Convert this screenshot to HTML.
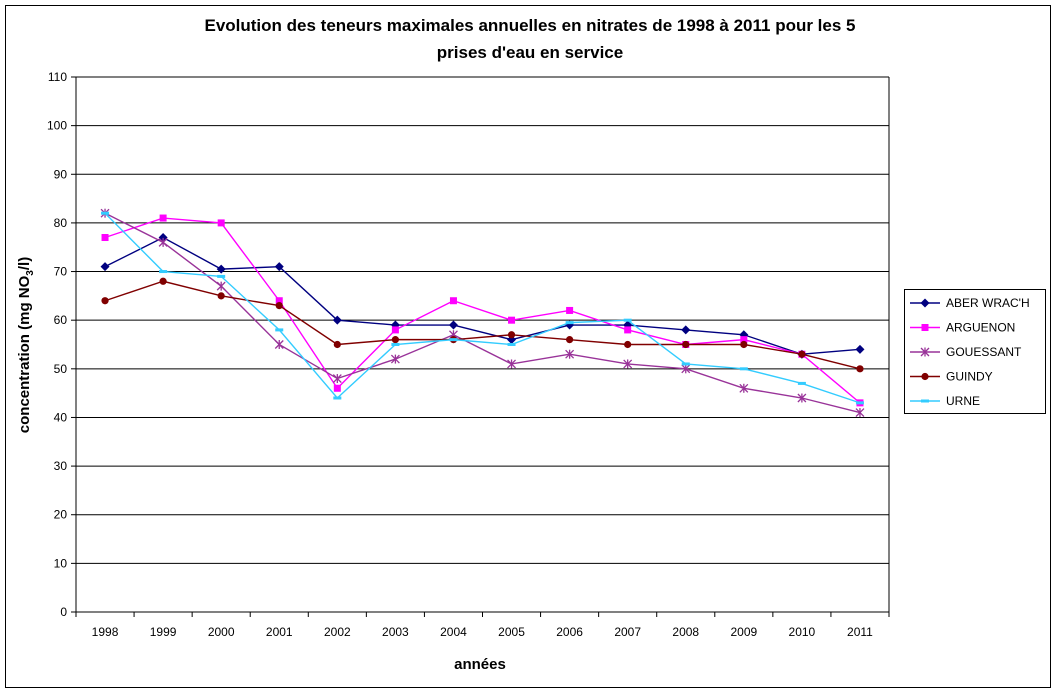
<!DOCTYPE html>
<html><head><meta charset="utf-8">
<style>
body{margin:0;background:#fff;font-family:"Liberation Sans",Arial,sans-serif;}
svg text{font-family:"Liberation Sans",Arial,sans-serif;}
</style></head>
<body>
<svg id="chart" width="1058" height="694" xmlns="http://www.w3.org/2000/svg">
<rect x="5.5" y="5.5" width="1045" height="682" fill="#fff" stroke="#000"/>
<text x="530" y="31" text-anchor="middle" font-size="17" font-weight="bold">Evolution des teneurs maximales annuelles en nitrates de 1998 à 2011 pour les 5</text>
<text x="530" y="58" text-anchor="middle" font-size="17" font-weight="bold">prises d'eau en service</text>
<g id="grid"></g><g id="axes"></g><g id="series"></g><g id="legend"></g>
<text x="480" y="669" text-anchor="middle" font-size="15" font-weight="bold">années</text>
<text transform="translate(29,345) rotate(-90)" text-anchor="middle" font-size="15" font-weight="bold">concentration (mg NO<tspan font-size="10" dy="4">3</tspan><tspan dy="-4">/l)</tspan></text>
</svg>
<script>
const categories=["1998","1999","2000","2001","2002","2003","2004","2005","2006","2007","2008","2009","2010","2011"];
const yTicks=[0,10,20,30,40,50,60,70,80,90,100,110];
const seriesNames=["ABER WRAC'H","ARGUENON","GOUESSANT","GUINDY","URNE"];
const aberWrach=[71,77,70.5,71,60,59,59,56,59,59,58,57,53,54];
const arguenon=[77,81,80,64,46,58,64,60,62,58,55,56,53,43];
const gouessant=[82,76,67,55,48,52,57,51,53,51,50,46,44,41];
const guindy=[64,68,65,63,55,56,56,57,56,55,55,55,53,50];
const urne=[82,70,69,58,44,55,56,55,59.5,60,51,50,47,43];

const NS="http://www.w3.org/2000/svg";
const L=76,R=889,T=77,B=612,YMAX=110;
const step=(R-L)/categories.length;
function xs(i){return L+step*(i+0.5);}
function ys(v){return B-(v/YMAX)*(B-T);}
function mk(tag,attrs,parent){const e=document.createElementNS(NS,tag);for(const k in attrs)e.setAttribute(k,attrs[k]);parent.appendChild(e);return e;}
const grid=document.getElementById('grid'),axes=document.getElementById('axes'),ser=document.getElementById('series'),leg=document.getElementById('legend');
yTicks.forEach(v=>{
  const y=ys(v);
  if(v>0){const g=mk('line',{x1:L,x2:R,y1:y,y2:y,stroke:'#000','stroke-width':1},grid);
  
  }
  mk('line',{x1:L-5,x2:L,y1:y,y2:y,stroke:'#000'},axes);
  const t=mk('text',{x:L-9,y:y+4,'text-anchor':'end','font-size':12},axes);t.textContent=v;
  
  
});
mk('line',{x1:L,x2:L,y1:T,y2:B,stroke:'#000'},axes);
mk('line',{x1:L,x2:R,y1:B,y2:B,stroke:'#000'},axes);
mk('line',{x1:R,x2:R,y1:T,y2:B,stroke:'#000'},axes);
mk('line',{x1:L,x2:R,y1:T,y2:T,stroke:'#000'},axes);
categories.forEach((c,i)=>{
  const x=L+step*i;
  mk('line',{x1:x,x2:x,y1:B,y2:B+5,stroke:'#000'},axes);
  const t=mk('text',{x:xs(i),y:B+24,'text-anchor':'middle','font-size':12},axes);t.textContent=c;
  
  
});
mk('line',{x1:R,x2:R,y1:B,y2:B+5,stroke:'#000'},axes);
const data=[aberWrach,arguenon,gouessant,guindy,urne];
const colors=["#000080","#FF00FF","#993399","#800000","#33CCFF"];
const markers=["diamond","square","star","circle","dash"];
function marker(type,x,y,c,p){
  if(type==="diamond")return mk('polygon',{points:`${x},${y-4.5} ${x+4.5},${y} ${x},${y+4.5} ${x-4.5},${y}`,fill:c},p);
  if(type==="square")return mk('rect',{x:x-3.5,y:y-3.5,width:7,height:7,fill:c},p);
  if(type==="circle")return mk('circle',{cx:x,cy:y,r:3.6,fill:c},p);
  if(type==="dash")return mk('rect',{x:x-4,y:y-1.5,width:8,height:3,fill:c},p);
  const g=mk('g',{stroke:c,'stroke-width':1.3},p);
  mk('line',{x1:x-4,y1:y-4,x2:x+4,y2:y+4},g);mk('line',{x1:x-4,y1:y+4,x2:x+4,y2:y-4},g);mk('line',{x1:x,y1:y-4.5,x2:x,y2:y+4.5},g);
  return g;
}
data.forEach((d,s)=>{
  const g=mk('g',{},ser);
  
  
  mk('polyline',{points:d.map((v,i)=>xs(i)+','+ys(v)).join(' '),fill:'none',stroke:colors[s],'stroke-width':1.4},g);
  d.forEach((v,i)=>{const m=marker(markers[s],xs(i),ys(v),colors[s],g);
    
    });
});
const lb=mk('rect',{x:904.5,y:289.5,width:141,height:124,fill:'#fff',stroke:'#000'},leg);


seriesNames.forEach((n,s)=>{
  const y=303+s*24.5;
  const g=mk('g',{},leg);
  
  
  mk('line',{x1:910,x2:940,y1:y,y2:y,stroke:colors[s],'stroke-width':1.4},g);
  marker(markers[s],925,y,colors[s],g);
  const t=mk('text',{x:946,y:y+4,'font-size':12},g);t.textContent=n;
});
</script>
</body></html>
